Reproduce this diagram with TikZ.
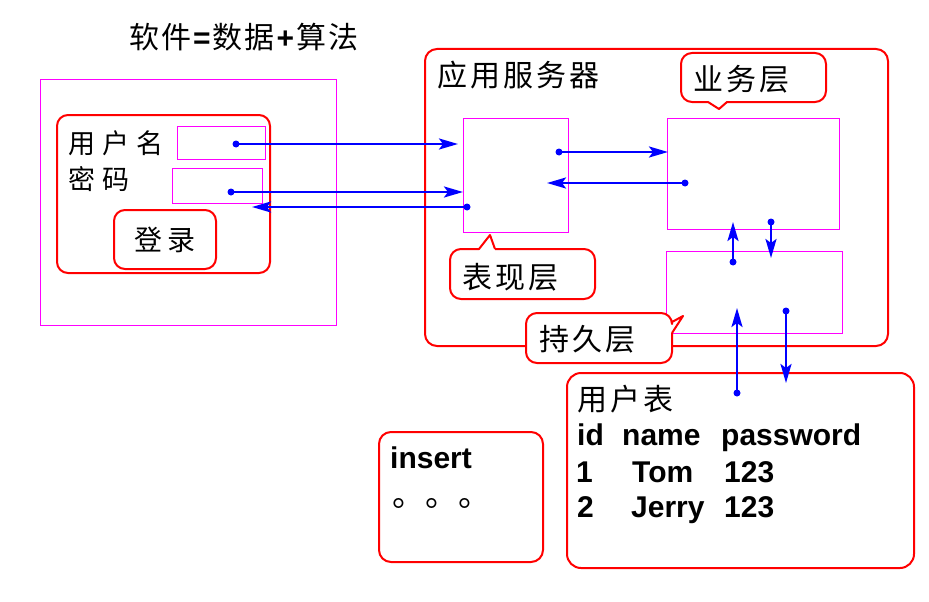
\documentclass[tikz,border=0pt]{standalone}
\usepackage{fontspec}
\setmainfont{Liberation Sans}
\newfontfamily\cjk{Noto Sans CJK SC}
\usetikzlibrary{arrows.meta}

\definecolor{frame}{RGB}{255,0,255}
\definecolor{outline}{RGB}{255,0,0}
\definecolor{wire}{RGB}{0,0,255}

% spaced CJK characters
\newcommand\cg[1]{\hspace{#1pt}}

\tikzset{
  panel/.style={draw=frame, line width=1pt, inner sep=0pt, anchor=north west},
  roundbox/.style={draw=outline, line width=2pt, rounded corners=11pt, fill=white},
  callout/.style={draw=outline, line width=2pt, fill=white, line join=round},
  cn/.style={font=\cjk\fontsize{#1}{#1}\selectfont, anchor=west, inner sep=0pt},
  en/.style={font=\bfseries\fontsize{30}{30}\selectfont, anchor=base west, inner sep=0pt},
  flow/.style={draw=wire, line width=2.4pt, -{Stealth[length=19pt,width=11pt,inset=4pt]}},
  dot/.style={fill=wire},
}

\begin{document}
\begin{tikzpicture}[x=1pt, y=-1pt]
\useasboundingbox (0,0) rectangle (929,602);

% title
\node[cn=30] (title) at (129,37) {软\cg2件\cg2{\rmfamily\bfseries =}\cg2数\cg2据\cg2{\rmfamily\bfseries +}\cg2算\cg2法};

% ---- client screen ----
\node[panel, minimum width=296pt, minimum height=246pt] (screen) at (40,79) {};
\draw[roundbox] (57,115) rectangle (270,273);
\node[panel, minimum width=88pt, minimum height=33pt] (userfield) at (177,126) {};
\node[panel, minimum width=90pt, minimum height=35pt] (pwdfield) at (172,168) {};
\node[cn=27] (userlabel) at (68,143) {用\cg7户\cg7名};
\node[cn=27] (pwdlabel) at (68,179) {密\cg7码};
\node[roundbox, minimum width=102pt, minimum height=59pt, inner sep=0pt,
      font=\cjk\fontsize{28}{28}\selectfont] (login) at (165,239.5) {登\cg6录};

% ---- application server ----
\draw[roundbox, rounded corners=12pt] (425,49) rectangle (888,346);
\node[cn=30] (serverlabel) at (437,75) {应\cg3用\cg3服\cg3务\cg3器};
\node[panel, minimum width=105pt, minimum height=114pt] (pres) at (463,118) {};
\node[panel, minimum width=172pt, minimum height=111pt] (biz) at (667,118) {};
\node[panel, minimum width=176pt, minimum height=82pt] (pers) at (666,251) {};

% callouts naming the three layers
\draw[callout] (708,102) -- (719,109) -- (727,102)
  [rounded corners=11pt] -- (826,102) -- (826,53) -- (681,53) -- (681,102) -- (708,102);
\node[cn=30] (bizlabel) at (693,79) {业\cg3务\cg3层};

\draw[callout] (495,249) -- (490,235) -- (479,249)
  [rounded corners=11pt] -- (450,249) -- (450,299) -- (595,299) -- (595,249) -- (495,249);
\node[cn=30] (preslabel) at (462,277) {表\cg3现\cg3层};

\draw[callout] (672,333) -- (683,316) -- (672,322)
  [rounded corners=11pt] -- (672,313) -- (526,313) -- (526,363) -- (672,363) -- (672,333);
\node[cn=30] (perslabel) at (539,339) {持\cg3久\cg3层};

% ---- database table ----
\draw[roundbox, rounded corners=14pt] (567,373) rectangle (914,568);
\node[cn=30] (tablelabel) at (577,399) {用\cg3户\cg3表};
\node[en] (hid) at (577,445) {id};
\node[en] (hname) at (622,445) {name};
\node[en] (hpass) at (721,445) {password};
\node[en] (r1id) at (576,482) {1};
\node[en] (r1name) at (632,482) {Tom};
\node[en] (r1pass) at (724,482) {123};
\node[en] (r2id) at (577,517) {2};
\node[en] (r2name) at (631,517) {Jerry};
\node[en] (r2pass) at (724,517) {123};

% ---- sql box ----
\draw[roundbox, rounded corners=12pt] (379,432) rectangle (543,562);
\node[en] (sql) at (390,468) {insert};
\node[cn=33, anchor=base west] (more) at (392,506) {。。。};

% ---- data flow ----
\coordinate (a1) at (236,144);  \coordinate (b1) at (458,144);
\coordinate (a2) at (231,192);  \coordinate (b2) at (463,192);
\coordinate (a3) at (467,207);  \coordinate (b3) at (252,207);
\coordinate (a4) at (559,152);  \coordinate (b4) at (668,152);
\coordinate (a5) at (685,183);  \coordinate (b5) at (547,183);
\coordinate (a6) at (733,262);  \coordinate (b6) at (733,222);
\coordinate (a7) at (771,222);  \coordinate (b7) at (771,258);
\coordinate (a8) at (737,393);  \coordinate (b8) at (737,308);
\coordinate (a9) at (786,311);  \coordinate (b9) at (786,383);
\foreach \i in {1,...,9} {
  \draw[flow] (a\i) -- (b\i);
  \fill[dot] (a\i) circle (3.5pt);
}
\end{tikzpicture}
\end{document}
